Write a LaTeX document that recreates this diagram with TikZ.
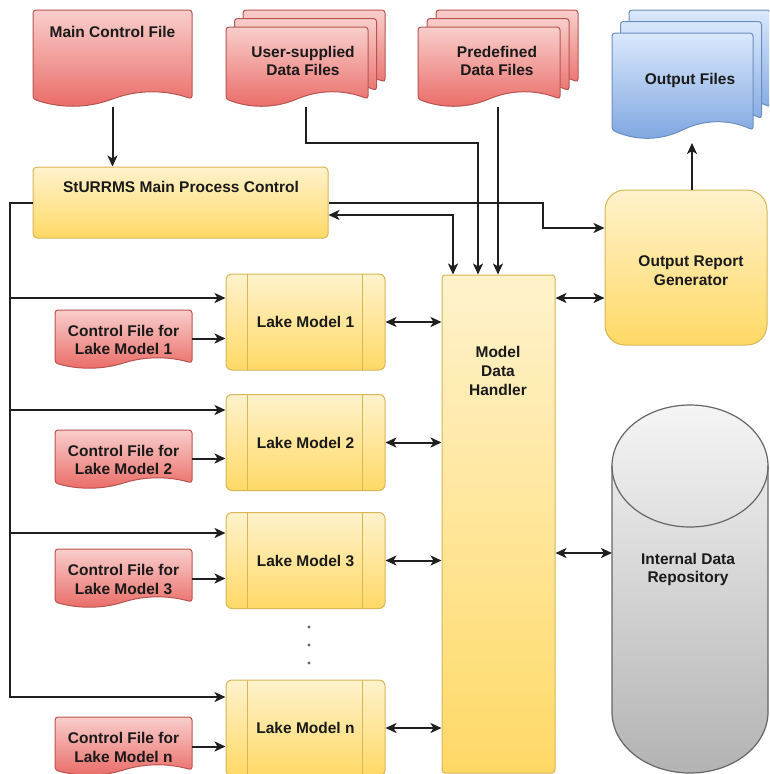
\documentclass[tikz,border=0pt]{standalone}
\usepackage{fontspec}
\setmainfont{Liberation Sans}
\usetikzlibrary{arrows.meta,calc}
\definecolor{redT}{HTML}{F8CECC}
\definecolor{redB}{HTML}{EA6B66}
\definecolor{redS}{HTML}{B85450}
\definecolor{yelT}{HTML}{FFF2CC}
\definecolor{yelB}{HTML}{FFD966}
\definecolor{yelS}{HTML}{D6B656}
\definecolor{bluT}{HTML}{DAE8FC}
\definecolor{bluB}{HTML}{7EA6E0}
\definecolor{bluS}{HTML}{6C8EBF}
\definecolor{gryT}{HTML}{F5F5F5}
\definecolor{gryB}{HTML}{B3B3B3}
\definecolor{gryS}{HTML}{666666}
\definecolor{txtc}{HTML}{1A1A1A}
\newcommand{\wdoc}[6]{%
  \pgfmathsetmacro\wdA{#4-(#4-#2)/6}%
  \pgfmathsetmacro\wdB{#4-(#4-#2)/3}%
  \pgfmathsetmacro\wdM{(#2+#4)/2}%
  \pgfmathsetmacro\wdC{#2+(#4-#2)/3}%
  \pgfmathsetmacro\wdD{#2+(#4-#2)/6}%
  \pgfmathsetmacro\wdU{#5-4*#6/3}%
  \pgfmathsetmacro\wdL{#5+4*#6/3}%
  \path[#1] (#2,#5) -- (#2,#3) -- (#4,#3) -- (#4,#5)
    .. controls (\wdA,\wdU) and (\wdB,\wdU) .. (\wdM,#5)
    .. controls (\wdC,\wdL) and (\wdD,\wdL) .. (#2,#5) -- cycle;
}
\tikzset{
  reddoc/.style={draw=redS, line width=1pt, top color=redT, bottom color=redB, rounded corners=3pt},
  bluedoc/.style={draw=bluS, line width=1pt, top color=bluT, bottom color=bluB, rounded corners=3pt},
  region/.style={rectangle, draw=none, inner sep=0pt, outer sep=0pt},
  lbl/.style={font=\fontsize{15.5}{18.7}\selectfont\bfseries, text=txtc, align=center, inner sep=0pt},
  ybox/.style={rectangle, draw=yelS, line width=1pt, top color=yelT, bottom color=yelB, inner sep=0pt},
  lake/.style={ybox, rounded corners=6pt, minimum width=159, minimum height=96, lbl},
  grycyl/.style={draw=gryS, line width=1.2pt, top color=gryT, bottom color=gryB},
  wire/.style={line width=2pt, draw=black!88},
  tip/.style={},
  arr/.style={wire, -{Stealth[length=11pt,width=10pt,inset=3pt]}},
  biarr/.style={wire, {Stealth[length=11pt,width=10pt,inset=3pt]}-{Stealth[length=11pt,width=10pt,inset=3pt]}},
  dotnode/.style={circle, fill=black!60, inner sep=0pt, minimum size=3.4pt},
}
\begin{document}
\begin{tikzpicture}[x=1pt,y=-1pt]
\useasboundingbox (0,0) rectangle (769,774);
\clip (0,0) rectangle (769,774);

% ---------- documents ----------
\wdoc{reddoc}{33}{10}{192}{99}{7}
\node[region, minimum width=159, minimum height=89] (mcf) at (112.5,54.5) {};
\node[lbl] (mcf-t) at (112.5,32) {Main Control File};

\wdoc{reddoc}{243}{10}{385}{82}{7}
\wdoc{reddoc}{234.5}{18.5}{376.5}{90.5}{7}
\wdoc{reddoc}{226}{27}{368}{99}{7}
\node[region, minimum width=159, minimum height=89] (usd) at (305.5,54.5) {};
\node[lbl] (usd-t) at (303,61) {User-supplied\\Data Files};

\wdoc{reddoc}{436}{10}{578}{82}{7}
\wdoc{reddoc}{427}{18.5}{569}{90.5}{7}
\wdoc{reddoc}{418}{27}{560}{99}{7}
\node[region, minimum width=160, minimum height=89] (pdf) at (498,54.5) {};
\node[lbl] (pdf-t) at (497,61) {Predefined\\Data Files};

\wdoc{bluedoc}{629}{10}{770}{107}{8}
\wdoc{bluedoc}{620.5}{21.5}{761.5}{118.5}{8}
\wdoc{bluedoc}{612}{33}{753}{130}{8}
\node[region, minimum width=158, minimum height=120] (ofs) at (691,70) {};
\node[lbl] (ofs-t) at (690,80) {Output Files};

% ---------- process boxes ----------
\node[ybox, rounded corners=4pt, minimum width=295, minimum height=71] (st) at (180.5,202.5) {};
\node[lbl] (st-t) at (181,187) {StURRMS Main Process Control};

\node[ybox, rounded corners=20pt, minimum width=162, minimum height=155] (org) at (686,267.5) {};
\node[lbl] (org-t) at (691,270.5) {Output Report\\Generator};

\node[ybox, rounded corners=3pt, minimum width=113, minimum height=498] (mdh) at (498.5,524) {};
\node[lbl] (mdh-t) at (498,371) {Model\\Data\\Handler};

% ---------- cylinder ----------
\path[grycyl] (612,466) -- (612,712)
  .. controls (612,745.7) and (646.9,773) .. (690,773)
  .. controls (733.1,773) and (768,745.7) .. (768,712)
  -- (768,466)
  .. controls (768,432.3) and (733.1,405) .. (690,405)
  .. controls (646.9,405) and (612,432.3) .. (612,466) -- cycle;
\draw[gryS, line width=1.2pt] (612,466)
  .. controls (612,499.7) and (646.9,527) .. (690,527)
  .. controls (733.1,527) and (768,499.7) .. (768,466);
\node[region, minimum width=156, minimum height=368] (cyl) at (690,589) {};
\node[lbl] (cyl-t) at (688,569.5) {Internal Data\\Repository};

% ---------- lake models ----------
\node[lake] (l1) at (305.5,322) {Lake Model 1};
\node[lake] (l2) at (305.5,442.5) {Lake Model 2};
\node[lake] (l3) at (305.5,560.5) {Lake Model 3};
\node[lake] (ln) at (305.5,728) {Lake Model n};
\foreach \n in {l1,l2,l3,ln}{
  \draw[yelS, line width=1pt] ([xshift=22pt]\n.north west) -- ([xshift=22pt]\n.south west);
  \draw[yelS, line width=1pt] ([xshift=-23pt]\n.north east) -- ([xshift=-23pt]\n.south east);
}
\node[dotnode] (d1) at (309,627) {};
\node[dotnode] (d2) at (309,645) {};
\node[dotnode] (d3) at (309,663) {};

% ---------- control files ----------
\wdoc{reddoc}{55}{310}{192}{363}{5}
\node[region, minimum width=137, minimum height=53] (c1) at (123.5,338.5) {};
\node[lbl] (c1-t) at (123.5,340) {Control File for\\Lake Model 1};
\wdoc{reddoc}{55}{430}{192}{483}{5}
\node[region, minimum width=137, minimum height=53] (c2) at (123.5,458.5) {};
\node[lbl] (c2-t) at (123.5,460) {Control File for\\Lake Model 2};
\wdoc{reddoc}{55}{549}{192}{602}{5}
\node[region, minimum width=137, minimum height=53] (c3) at (123.5,578.5) {};
\node[lbl] (c3-t) at (123.5,579.5) {Control File for\\Lake Model 3};
\wdoc{reddoc}{55}{717}{192}{770}{5}
\node[region, minimum width=137, minimum height=53] (cn) at (123.5,746.5) {};
\node[lbl] (cn-t) at (123.5,747.5) {Control File for\\Lake Model n};

% ---------- connectors ----------
\draw[arr] ([yshift=-8pt]mcf.south) -- (st.north -| mcf.south);

\coordinate (busend) at (10,697);
\coordinate (b1) at (10,298);
\coordinate (b2) at (10,410);
\coordinate (b3) at (10,533);
\draw[arr] (st.west) -| (busend) -- (busend -| ln.west);
\draw[arr] (b1) -- (b1 -| l1.west);
\draw[arr] (b2) -- (b2 -| l2.west);
\draw[arr] (b3) -- (b3 -| l3.west);

\draw[arr] (c1.east) -- (c1.east -| l1.west);
\draw[arr] (c2.east) -- (c2.east -| l2.west);
\draw[arr] (c3.east) -- (c3.east -| l3.west);
\draw[arr] (cn.east) -- (cn.east -| ln.west);

\draw[biarr] (l1.east) -- (l1.east -| mdh.west);
\draw[biarr] (l2.east) -- (l2.east -| mdh.west);
\draw[biarr] (l3.east) -- (l3.east -| mdh.west);
\draw[biarr] (ln.east) -- (ln.east -| mdh.west);

\coordinate (j1) at (478,143);
\draw[arr] ([yshift=-8pt]usd.south) |- (j1) -- (j1 |- mdh.north);
\draw[arr] ([yshift=-8pt]pdf.south) -- (pdf.south |- mdh.north);

\coordinate (j2) at (453,215);
\draw[biarr] (j2 -| st.east) -- (j2) -- (j2 |- mdh.north);

\coordinate (j3) at (543,228);
\draw[arr] (st.east) -| (j3) -- (j3 -| org.west);

\coordinate (ofb) at (692,143);
\draw[arr] (ofb |- org.north) -- (ofb);

\coordinate (j4) at (555,298);
\draw[biarr] (j4 -| mdh.east) -- (j4 -| org.west);

\coordinate (j5) at (612,553);
\draw[biarr] (j5 -| mdh.east) -- (j5 -| cyl.west);
\end{tikzpicture}
\end{document}
